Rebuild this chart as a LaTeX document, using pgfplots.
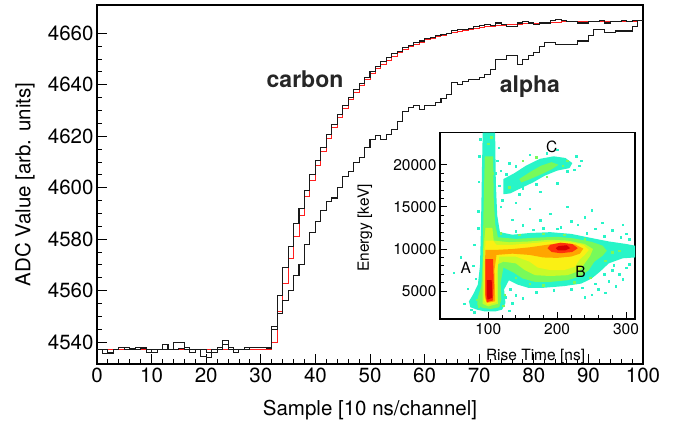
\documentclass[border=0pt]{standalone}
\usepackage{pgfplots}
\pgfplotsset{compat=1.18}
\usepackage{fontspec}
\setmainfont{TeX Gyre Heros}
\definecolor{cc}{RGB}{40,245,200}
\definecolor{cg}{RGB}{120,250,90}
\definecolor{cyg}{RGB}{200,250,40}
\definecolor{cy}{RGB}{250,240,20}
\definecolor{co}{RGB}{255,165,0}
\definecolor{cr}{RGB}{255,50,10}
\definecolor{cdr}{RGB}{215,0,0}
\definecolor{fitred}{RGB}{255,30,30}
\begin{document}
\begin{tikzpicture}
\begin{axis}[name=main, at={(0,0)}, anchor=south west, scale only axis,
 width=546pt, height=359pt,
 xmin=0, xmax=100, ymin=4531.5, ymax=4671,
 xtick={0,10,...,100}, ytick={4540,4560,...,4660},
 minor x tick num=4, minor y tick num=3,
 tick align=inside, xtick pos=bottom, ytick pos=left,
 major tick length=10pt, minor tick length=5pt,
 axis line style={line width=1.1pt},
 every tick/.style={black, line width=0.9pt},
 font=\fontsize{20.5}{24}\selectfont,
 /pgf/number format/assume math mode=true, /pgf/number format/1000 sep={},
 xlabel={Sample [10 ns/channel]}, ylabel={ADC Value [arb. units]},
 xlabel style={at={(axis description cs:0.5,-0.128)}, anchor=center},
 ylabel style={at={(axis description cs:-0.132,0.5)}, anchor=center},
 clip=true]
\addplot[const plot mark left, fitred, line width=1pt] coordinates {
(0,4537)(32,4540)(33,4552)(34,4562.7)(35,4572.5)(36,4581.2)(37,4589.2)(38,4596.4)(39,4602.9)(40,4608.8)(41,4614.1)(42,4619)(43,4623.3)(44,4627.3)(45,4630.9)(46,4634.1)(47,4637.1)(48,4639.7)(49,4642.1)(50,4644.3)(51,4646.2)(52,4648)(53,4649.6)(54,4651.1)(55,4652.4)(56,4653.6)(57,4654.7)(58,4655.7)(59,4656.5)(60,4657.4)(61,4658.1)(62,4658.7)(63,4659.3)(64,4659.9)(65,4660.4)(66,4660.8)(67,4661.2)(68,4661.6)(69,4661.9)(70,4662.2)(71,4662.5)(72,4662.7)(73,4662.9)(74,4663.1)(75,4663.3)(76,4663.5)(77,4663.6)(78,4663.7)(79,4663.9)(80,4664)(81,4664.1)(82,4664.2)(83,4664.2)(84,4664.3)(85,4664.4)(86,4664.4)(87,4664.5)(88,4664.5)(89,4664.6)(90,4664.6)(95,4664.7)(99,4664.8)(100,4664.8)};
\addplot[const plot mark left, black!90, line width=1.05pt] coordinates {
(0,4537)(1,4537)(2,4536)(3,4537)(4,4538)(5,4538)(6,4537)(7,4538)(8,4538)(9,4537)(10,4536)(11,4537)(12,4537)(13,4537)(14,4540)(15,4540)(16,4538)(17,4537)(18,4537)(19,4537)(20,4536)(21,4537)(22,4537)(23,4539)(24,4538)(25,4537)(26,4537)(27,4538)(28,4538)(29,4538)(30,4538)(31,4538)(32,4546)(33,4558)(34,4569)(35,4577)(36,4586)(37,4592)(38,4599)(39,4605)(40,4610.5)(41,4615.5)(42,4620.5)(43,4624.5)(44,4628.5)(45,4632)(46,4635)(47,4638)(48,4640.5)(49,4643)(50,4645)(51,4647)(52,4649)(53,4650.5)(54,4652)(55,4653)(56,4654.3)(57,4655.3)(58,4656.3)(59,4657)(60,4658)(61,4658.5)(62,4659)(63,4659.5)(64,4660)(65,4661)(66,4661.5)(67,4661.5)(68,4662)(69,4662.5)(70,4663)(71,4663.5)(72,4663)(73,4664)(74,4663.5)(75,4662.5)(76,4662.5)(77,4664)(78,4664.5)(79,4664)(80,4663.5)(81,4664)(82,4664)(83,4665)(84,4665.5)(85,4665)(86,4664.5)(87,4664.5)(88,4664)(89,4664)(90,4664.5)(91,4664.5)(92,4665)(93,4664)(94,4664.5)(95,4664.5)(96,4665)(97,4664.5)(98,4665)(99,4665)(100,4665)};
\addplot[const plot mark left, black!90, line width=1.05pt] coordinates {
(0,4537)(1,4535.5)(2,4535.5)(3,4537)(4,4538)(5,4537)(6,4537.5)(7,4537)(8,4537.5)(9,4536)(10,4537)(11,4537)(12,4539)(13,4537)(14,4537)(15,4537.5)(16,4537)(17,4536)(18,4537)(19,4534.5)(20,4534)(21,4536)(22,4538)(23,4540.5)(24,4537)(25,4536)(26,4537)(27,4537)(28,4538)(29,4538)(30,4538)(31,4537.5)(32,4545)(33,4551)(34,4556)(35,4560)(36,4566)(37,4570)(38,4578)(39,4582.5)(40,4587)(41,4591)(42,4594.7)(43,4596)(44,4600)(45,4604.4)(46,4606.4)(47,4609.7)(48,4611.7)(49,4615.6)(50,4618.7)(51,4620.3)(52,4618.7)(53,4620.7)(54,4622.6)(55,4625.8)(56,4629.7)(57,4631)(58,4632)(59,4630.4)(60,4632)(61,4632)(62,4633)(63,4634.6)(64,4636.2)(65,4641)(66,4640)(67,4641.4)(68,4642)(69,4642)(70,4642.7)(71,4644)(72,4646)(73,4650)(74,4650)(75,4651.2)(76,4651.2)(77,4648)(78,4650)(79,4651.2)(80,4652.5)(81,4655)(82,4656.6)(83,4656.6)(84,4655.7)(85,4655.7)(86,4655.7)(87,4655.7)(88,4657)(89,4657)(90,4659)(91,4661.3)(92,4661.3)(93,4660.3)(94,4660.3)(95,4660.9)(96,4660.9)(97,4660.9)(98,4662.8)(99,4664.8)(100,4664.8)};
\node[font=\fontsize{23}{27}\selectfont\bfseries, text=black!85] at (axis cs:38.1,4642) {carbon};
\node[font=\fontsize{23}{27}\selectfont\bfseries, text=black!85] at (axis cs:79.3,4639.4) {alpha};
\end{axis}
\begin{axis}[name=inset, at={(343pt,45pt)}, anchor=south west, scale only axis,
 width=195pt, height=186.3pt,
 xmin=30, xmax=313, ymin=1700, ymax=23800,
 axis background/.style={fill=white},
 xtick={100,200,300}, ytick={5000,10000,15000,20000},
 minor x tick num=4, minor y tick num=4,
 tick align=inside, xtick pos=bottom, ytick pos=left,
 major tick length=7pt, minor tick length=3.5pt,
 axis line style={line width=1.1pt},
 every tick/.style={black, line width=0.8pt},
 scaled x ticks=false, scaled y ticks=false,
 font=\fontsize{15.5}{18}\selectfont,
 /pgf/number format/assume math mode=true, /pgf/number format/1000 sep={},
 xticklabel style={yshift=-1pt},
 xlabel={Rise Time [ns]}, ylabel={Energy [keV]},
 xlabel style={at={(axis description cs:0.49,-0.2)}, anchor=center},
 ylabel style={at={(axis description cs:-0.385,0.488)}, anchor=center},
 clip=true]
% outermost (low count) region
\addplot[fill=cc, draw=none] coordinates {(92,23800)(110,23800)(111,18000)(113,14000)(117,12000)(135,11700)(160,11900)(190,12000)(220,11800)(250,11300)(275,10900)(300,10600)(313,10400)(313,9000)(295,8900)(275,8300)(262,7300)(250,6500)(235,5900)(210,5600)(180,5400)(158,5400)(142,5800)(130,6300)(123,5200)(125,3600)(120,2800)(110,2600)(95,2600)(84,2800)(74,3100)(72,3800)(78,4600)(85,5800)(88,8000)(89,11000)(90,15000)(91,20000)(92,23800)};
\addplot[fill=cc, draw=none] coordinates {(122,16500)(122,18300)(138,19000)(155,19900)(175,20700)(195,21000)(212,20800)(222,20200)(218,19600)(200,19300)(182,18700)(165,17900)(147,17200)(132,16600)(122,16500)};
% green
\addplot[fill=cg, draw=none] coordinates {(95,21000)(107,21000)(108,16000)(110,13000)(114,11400)(140,11200)(170,11350)(200,11450)(225,11250)(250,10850)(266,10400)(272,9800)(266,9200)(254,8500)(246,7500)(235,6800)(215,6300)(190,6100)(168,6100)(150,6500)(137,7200)(122,7800)(118,6000)(119,4000)(116,3100)(104,2900)(92,3000)(84,3400)(85,4300)(90,5600)(92,9000)(93,14000)(95,21000)};
\addplot[fill=cg, draw=none] coordinates {(145,18300)(162,19200)(177,19900)(192,20300)(202,20000)(193,19500)(178,18900)(161,18300)(148,17900)(145,18300)};
% yellow-green
\addplot[fill=cyg, draw=none] coordinates {(96,12500)(106,12500)(108,11000)(130,10800)(160,10900)(190,11100)(215,11000)(240,10600)(252,10000)(248,9200)(240,8300)(232,7400)(215,6900)(190,6800)(168,6900)(153,7500)(140,8300)(122,8500)(114,8200)(114,3500)(100,3200)(92,3500)(92,6000)(93,10000)(96,12500)};
% yellow
\addplot[fill=cy, draw=none] coordinates {(96,11000)(107,11000)(112,10500)(135,10500)(165,10700)(190,10900)(215,10850)(238,10500)(246,9900)(240,9300)(232,8700)(226,7900)(210,7500)(190,7500)(172,7800)(160,8500)(140,9100)(116,9100)(112,7000)(112,3700)(99,3400)(94,3900)(94,7000)(96,11000)};
% orange
\addplot[fill=co, draw=none] coordinates {(96,9900)(107,9900)(112,9900)(135,10000)(160,10200)(185,10500)(205,10700)(226,10550)(238,10050)(233,9450)(220,9100)(200,8950)(180,9000)(160,9300)(135,9450)(112,9300)(109,7500)(110,3800)(98,3600)(95,4300)(95,8000)(96,9900)};
% red
\addplot[fill=cr, draw=none] coordinates {(96,8800)(107,8800)(108,6000)(107,3900)(98,3700)(96,4500)(96,6500)(96,8800)};
\addplot[fill=cr, draw=none] coordinates {(190,10500)(205,10750)(222,10600)(230,10100)(222,9650)(205,9500)(192,9650)(186,10100)(190,10500)};
\addplot[fill=cdr, draw=none] coordinates {(98,6300)(105,6300)(106,4200)(99,4000)(98,4600)(98,6300)};
\addplot[fill=cdr, draw=none] coordinates {(202,10350)(214,10450)(219,10100)(212,9850)(201,9850)(198,10100)(202,10350)};
% scattered green entries
\addplot[only marks, mark=square*, mark size=0.8pt, cg] coordinates {
(100,22500)(104,23300)(98,17500)(106,19000)(150,20500)(170,20900)(185,18600)(130,17300)(208,19900)(215,20500)
(255,9000)(262,10000)(280,9600)(290,9800)(270,8600)(248,6600)(225,6100)(180,5700)(160,5900)(140,6600)
(118,11900)(145,11700)(180,11800)(210,11700)(240,11200)(83,4000)(86,3200)(122,3300)(124,4500)};
% sparse entries
\addplot[only marks, mark=square*, mark size=0.8pt, cc] coordinates {
(150,12800)(175,13400)(205,12600)(230,12900)(255,12400)(280,12200)(190,14200)(240,13800)(265,13100)(300,11800)(215,15000)(160,14800)(135,13500)(295,12900)(250,14600)(180,12500)(220,13300)
(260,5200)(275,6200)(290,7000)(300,7800)(285,5600)(305,8200)(250,4600)(270,4800)(240,4300)(295,6400)(280,7500)(310,9300)(305,11200)(292,11400)(268,11500)(243,11900)(200,12400)(165,12300)(140,12100)
(50,7200)(60,9000)(70,5300)(78,8000)(80,10500)(65,3500)(85,12500)(75,2800)(82,6500)(80,2500)(130,2700)(135,3600)
(120,15800)(145,16500)(215,19200)(228,21000)(235,20500)(160,21200)(200,21800)(130,20200)(110,19000)(118,19300)(126,18900)(140,19800)(185,21400)(225,19400)(232,19900)(150,17200)(170,17700)
(140,15500)(175,16800)(200,17800)(86,18000)(87,21000)(115,22000)(116,17500)(85,14500)(118,15000)(88,23000)(113,20500)
(125,4300)(132,5200)(140,4500)(150,4200)(170,4900)(195,5100)(220,5200)(236,5400)(255,5900)(268,7000)(282,8100)};
\node[font=\fontsize{15.5}{18}\selectfont] at (axis cs:67.4,7750) {A};
\node[font=\fontsize{15.5}{18}\selectfont] at (axis cs:234,7300) {B};
\node[font=\fontsize{15.5}{18}\selectfont] at (axis cs:192,22150) {C};
\end{axis}
\pgfresetboundingbox
\path (-97pt,-63pt) rectangle (580pt,364pt);
\end{tikzpicture}
\end{document}
